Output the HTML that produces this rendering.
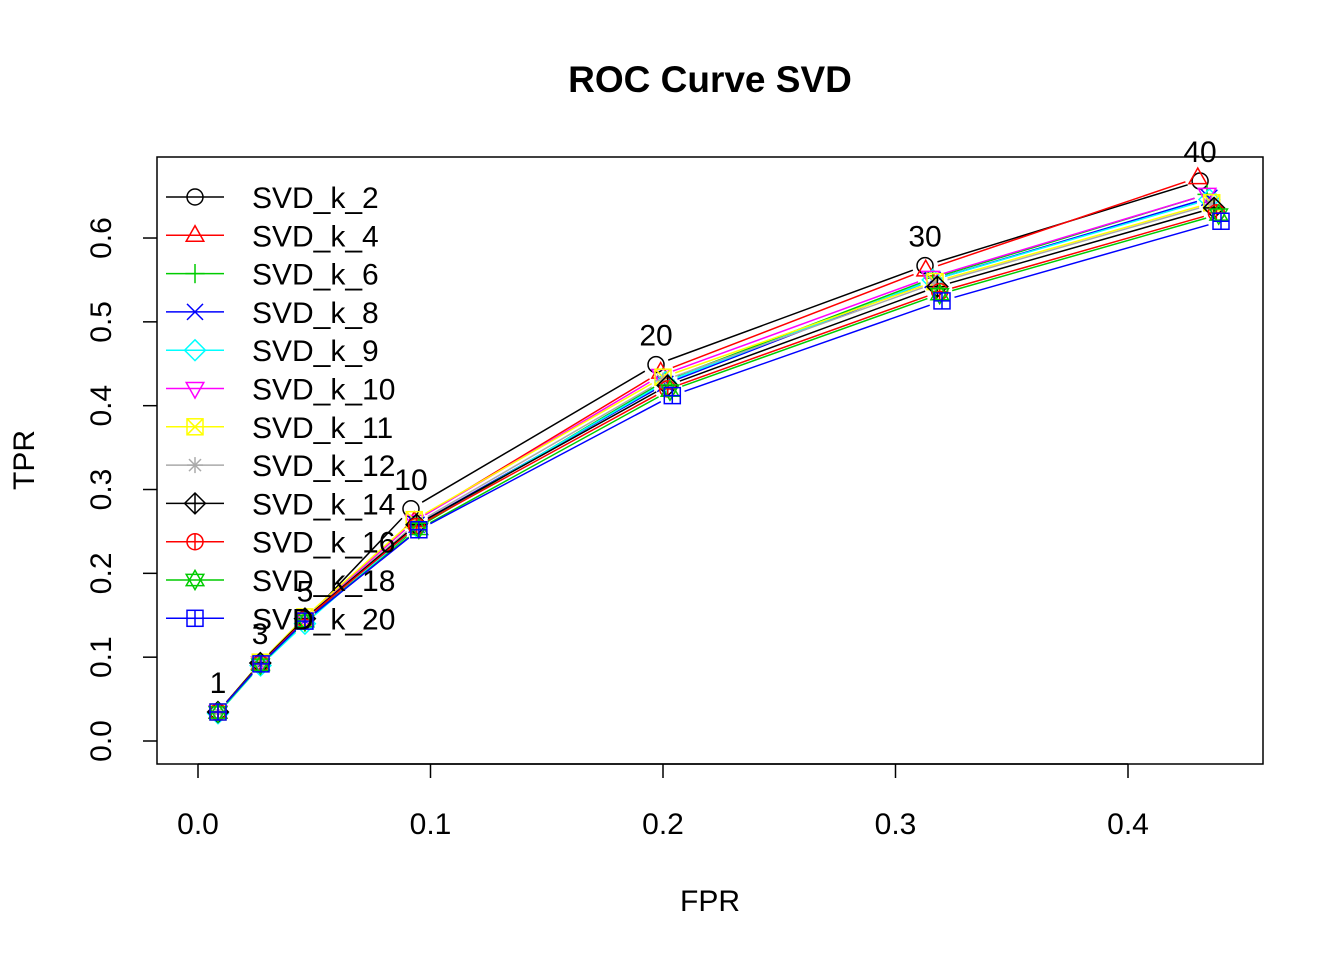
<!DOCTYPE html>
<html><head><meta charset="utf-8"><style>
body{margin:0;background:#fff}
svg text{font-family:"Liberation Sans",Arial,sans-serif}
</style></head><body>
<svg id="chart" width="1344" height="960" viewBox="0 0 1344 960" xmlns="http://www.w3.org/2000/svg">
<rect width="1344" height="960" fill="#fff"/>
<text x="710" y="92" font-size="37" font-weight="bold" text-anchor="middle">ROC Curve SVD</text>
<rect x="157" y="157" width="1106" height="607" fill="none" stroke="#000" stroke-width="1.5"/>
<text x="710" y="911" font-size="30" text-anchor="middle">FPR</text>
<text transform="translate(34,460) rotate(-90)" font-size="30" text-anchor="middle">TPR</text>
<g id="axes"></g><g id="series"></g><g id="labels"></g><g id="legend"></g>
</svg>
<script>
const xTicks=[0.0,0.1,0.2,0.3,0.4];
const xTickLabels=["0.0","0.1","0.2","0.3","0.4"];
const yTicks=[0.0,0.1,0.2,0.3,0.4,0.5,0.6];
const yTickLabels=["0.0","0.1","0.2","0.3","0.4","0.5","0.6"];
const pointLabels=["1","3","5","10","20","30","40"];
const seriesNames=["SVD_k_2","SVD_k_4","SVD_k_6","SVD_k_8","SVD_k_9","SVD_k_10","SVD_k_11","SVD_k_12","SVD_k_14","SVD_k_16","SVD_k_18","SVD_k_20"];
const seriesColors=["#000","#f00","#0c0","#00f","#0ff","#f0f","#ff0","#aaa","#000","#f00","#0c0","#00f"];
const seriesPch=[1,2,3,4,5,6,7,8,9,10,11,12];
const fprK2=[0.0086,0.0267,0.046,0.0916,0.197,0.3127,0.431];
const tprK2=[0.0346,0.093,0.144,0.277,0.449,0.567,0.668];
const fprK4=[0.0086,0.0268,0.046,0.093,0.199,0.313,0.430];
const tprK4=[0.0346,0.093,0.146,0.262,0.440,0.562,0.672];
const fprK6=[0.0087,0.0269,0.046,0.094,0.201,0.316,0.434];
const tprK6=[0.0330,0.090,0.142,0.254,0.430,0.552,0.652];
const fprK8=[0.0086,0.0269,0.046,0.094,0.201,0.316,0.435];
const tprK8=[0.0346,0.092,0.144,0.258,0.426,0.550,0.648];
const fprK9=[0.0086,0.0269,0.046,0.094,0.201,0.316,0.435];
const tprK9=[0.0330,0.090,0.140,0.256,0.428,0.550,0.646];
const fprK10=[0.0086,0.0268,0.046,0.093,0.199,0.315,0.434];
const tprK10=[0.0346,0.093,0.146,0.262,0.436,0.553,0.652];
const fprK11=[0.0086,0.0268,0.046,0.093,0.200,0.317,0.436];
const tprK11=[0.0346,0.094,0.148,0.264,0.434,0.548,0.642];
const fprK12=[0.0086,0.0268,0.046,0.094,0.200,0.317,0.436];
const tprK12=[0.0346,0.093,0.146,0.260,0.430,0.546,0.640];
const fprK14=[0.0086,0.0268,0.046,0.094,0.202,0.318,0.437];
const tprK14=[0.0346,0.093,0.146,0.258,0.424,0.542,0.636];
const fprK16=[0.0086,0.0269,0.046,0.094,0.202,0.319,0.438];
const tprK16=[0.0346,0.092,0.145,0.256,0.420,0.536,0.630];
const fprK18=[0.0086,0.0269,0.046,0.095,0.203,0.319,0.439];
const tprK18=[0.0340,0.091,0.143,0.253,0.418,0.533,0.628];
const fprK20=[0.0086,0.0271,0.046,0.095,0.204,0.320,0.440];
const tprK20=[0.0346,0.092,0.143,0.252,0.412,0.525,0.620];
const fprAll=[fprK2,fprK4,fprK6,fprK8,fprK9,fprK10,fprK11,fprK12,fprK14,fprK16,fprK18,fprK20];
const tprAll=[tprK2,tprK4,tprK6,tprK8,tprK9,tprK10,tprK11,tprK12,tprK14,tprK16,tprK18,tprK20];

const NS="http://www.w3.org/2000/svg";
const xs=v=>198+v*2325, ys=v=>741-v*838.3;
function mk(tag,attrs,parent){const e=document.createElementNS(NS,tag);for(const k in attrs)e.setAttribute(k,attrs[k]);parent.appendChild(e);return e;}
const axes=document.getElementById('axes');
mk('line',{x1:xs(0),x2:xs(0.4),y1:764,y2:764,stroke:'#000','stroke-width':1.5},axes);
xTicks.forEach((t,i)=>{
  const l=mk('line',{x1:xs(t),x2:xs(t),y1:764,y2:778,stroke:'#000','stroke-width':1.5},axes);
  
  
  const tx=mk('text',{x:xs(t),y:834,'font-size':30,'text-anchor':'middle'},axes);tx.textContent=xTickLabels[i];
  
  
});
yTicks.forEach((t,i)=>{
  const l=mk('line',{x1:143,x2:157,y1:ys(t),y2:ys(t),stroke:'#000','stroke-width':1.5},axes);
  
  
  const tx=mk('text',{transform:`translate(111,${ys(t)}) rotate(-90)`,'font-size':30,'text-anchor':'middle'},axes);tx.textContent=yTickLabels[i];
  
  
});
function sym(p,x,y,c,g){const r=8,a={fill:'none',stroke:c,'stroke-width':1.5};
  const poly=pts=>mk('polygon',Object.assign({points:pts.map(q=>q.join(',')).join(' ')},a),g);
  const ln=(x1,y1,x2,y2)=>mk('line',Object.assign({x1,y1,x2,y2},a),g);
  if(p===1)mk('circle',Object.assign({cx:x,cy:y,r:r},a),g);
  if(p===2)poly([[x,y-r*1.2],[x-r*1.1,y+r*0.75],[x+r*1.1,y+r*0.75]]);
  if(p===3){ln(x-r*1.2,y,x+r*1.2,y);ln(x,y-r*1.2,x,y+r*1.2);}
  if(p===4){ln(x-r,y-r,x+r,y+r);ln(x-r,y+r,x+r,y-r);}
  if(p===5)poly([[x,y-r*1.3],[x+r*1.3,y],[x,y+r*1.3],[x-r*1.3,y]]);
  if(p===6)poly([[x,y+r*1.2],[x-r*1.1,y-r*0.75],[x+r*1.1,y-r*0.75]]);
  if(p===7){mk('rect',Object.assign({x:x-r,y:y-r,width:2*r,height:2*r},a),g);ln(x-r,y-r,x+r,y+r);ln(x-r,y+r,x+r,y-r);}
  if(p===8){ln(x-r,y,x+r,y);ln(x,y-r,x,y+r);ln(x-r*.75,y-r*.75,x+r*.75,y+r*.75);ln(x-r*.75,y+r*.75,x+r*.75,y-r*.75);}
  if(p===9){poly([[x,y-r*1.3],[x+r*1.3,y],[x,y+r*1.3],[x-r*1.3,y]]);ln(x-r*1.3,y,x+r*1.3,y);ln(x,y-r*1.3,x,y+r*1.3);}
  if(p===10){mk('circle',Object.assign({cx:x,cy:y,r:r},a),g);ln(x-r,y,x+r,y);ln(x,y-r,x,y+r);}
  if(p===11){poly([[x,y-r*1.2],[x-r*1.1,y+r*0.7],[x+r*1.1,y+r*0.7]]);poly([[x,y+r*1.2],[x-r*1.1,y-r*0.7],[x+r*1.1,y-r*0.7]]);}
  if(p===12){mk('rect',Object.assign({x:x-r,y:y-r,width:2*r,height:2*r},a),g);ln(x-r,y,x+r,y);ln(x,y-r,x,y+r);}
}
const sg=document.getElementById('series');
seriesNames.forEach((nm,s)=>{
  const g=mk('g',{},sg);
  
  
  const fx=fprAll[s],ty=tprAll[s],c=seriesColors[s];
  for(let i=0;i<fx.length-1;i++){
    const x1=xs(fx[i]),y1=ys(ty[i]),x2=xs(fx[i+1]),y2=ys(ty[i+1]);
    const d=Math.hypot(x2-x1,y2-y1),gap=13;
    if(d>2*gap){const ux=(x2-x1)/d,uy=(y2-y1)/d;
      mk('line',{x1:x1+ux*gap,y1:y1+uy*gap,x2:x2-ux*gap,y2:y2-uy*gap,stroke:c,'stroke-width':1.5},g);}
  }
  fx.forEach((v,i)=>{const pg=mk('g',{},g);
    
    
    sym(seriesPch[s],xs(v),ys(ty[i]),c,pg);});
});
const lg=document.getElementById('labels');
pointLabels.forEach((t,i)=>{
  const tx=mk('text',{x:xs(fprK2[i]),y:ys(tprK2[i])-19,'font-size':30,'text-anchor':'middle'},lg);tx.textContent=t;
  
  
});
const leg=document.getElementById('legend');


seriesNames.forEach((nm,s)=>{
  const y=197+38.3*s;
  const g=mk('g',{},leg);
  
  
  mk('line',{x1:166,x2:224,y1:y,y2:y,stroke:seriesColors[s],'stroke-width':1.5},g);
  sym(seriesPch[s],195,y,seriesColors[s],g);
  const tx=mk('text',{x:252,y:y+11,'font-size':30},g);tx.textContent=nm;
});
</script>
</body></html>
